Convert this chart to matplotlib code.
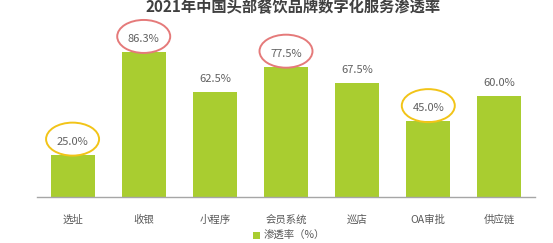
import matplotlib
matplotlib.use("Agg")
import matplotlib.pyplot as plt
from matplotlib.patches import Ellipse
import matplotlib.transforms as mtransforms

plt.rcParams['font.family'] = ['Noto Sans CJK SC', 'DejaVu Sans']

title = "2021年中国头部餐饮品牌数字化服务渗透率"
categories = ["选址", "收银", "小程序", "会员系统", "巡店", "OA审批", "供应链"]
values = [25.0, 86.3, 62.5, 77.5, 67.5, 45.0, 60.0]
series_name = "渗透率（%）"
# highlighted labels: index -> ring colour
highlights = {0: "#F2C418", 1: "#E57A7A", 3: "#E57A7A", 5: "#F2C418"}

W, H, DPI = 553, 243, 100
fig = plt.figure(figsize=(W / DPI, H / DPI), dpi=DPI)
ax = fig.add_axes([37 / W, (H - 196.5) / H, 498 / W, 167.5 / H])

bar_color = "#A9CD30"
x = list(range(len(categories)))
ax.bar(x, values, width=0.62, color=bar_color, label=series_name, zorder=2)

ax.set_xlim(-0.5, len(categories) - 0.5)
ax.set_ylim(0, 100)
ax.set_yticks([])
ax.set_xticks(x)
ax.set_xticklabels(categories, fontsize=7.5, color="#595959")
ax.tick_params(axis='x', length=0, pad=13)
for s in ["top", "right", "left"]:
    ax.spines[s].set_visible(False)
ax.spines["bottom"].set_color("#A6A6A6")
ax.spines["bottom"].set_linewidth(1.0)

for i, v in zip(x, values):
    ax.annotate(f"{v:.1f}%", (i, v), xytext=(0, 9.4), textcoords="offset points",
                ha="center", va="center", fontsize=8, color="#606060")
    if i in highlights:
        trans = fig.dpi_scale_trans + mtransforms.ScaledTranslation(i, v, ax.transData)
        e = Ellipse((0, 15.5 / DPI), 53 / DPI, 33 / DPI, transform=trans,
                    fill=False, edgecolor=highlights[i], linewidth=1.4, zorder=3,
                    clip_on=False)
        fig.add_artist(e)

fig.text(293 / W, 1 - 7.5 / H, title, ha="center", va="center", fontsize=11,
         fontweight="bold", color="#404040")

leg = fig.legend(loc="center", bbox_to_anchor=(289 / W, 1 - 236 / H), frameon=False,
                 fontsize=7.5, handlelength=0.7, handleheight=0.7, handletextpad=0.3,
                 borderpad=0, borderaxespad=0)
for t in leg.get_texts():
    t.set_color("#595959")

fig.savefig("out.png", dpi=DPI)
